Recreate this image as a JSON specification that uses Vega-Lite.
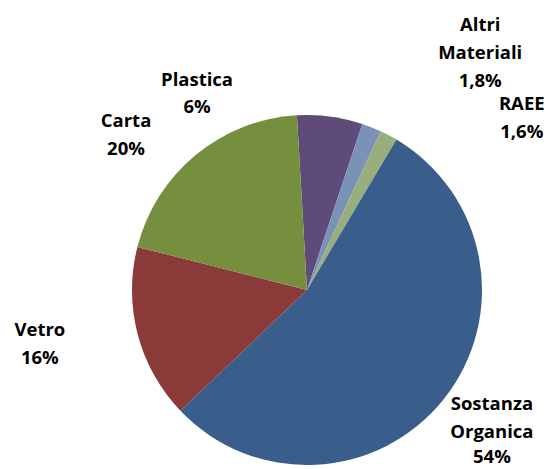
{
  "$schema": "https://vega.github.io/schema/vega-lite/v6.json",
  "autosize": {"type": "none"},
  "width": 350,
  "height": 350,
  "padding": {"left": 132, "top": 115, "right": 65, "bottom": 4},
  "background": "white",
  "config": {
    "view": {"stroke": null},
    "locale": {"number": {"decimal": ",", "thousands": ".", "grouping": [3], "currency": ["€", ""]}},
    "text": {"font": "Open Sans", "fontWeight": "bold", "fontSize": 18.5, "color": "black", "align": "center", "baseline": "alphabetic", "lineHeight": 28}
  },
  "data": {"values": [
    {"categoria": "Plastica", "quota": 0.06},
    {"categoria": "Altri Materiali", "quota": 0.018},
    {"categoria": "RAEE", "quota": 0.016},
    {"categoria": "Sostanza Organica", "quota": 0.54},
    {"categoria": "Vetro", "quota": 0.16},
    {"categoria": "Carta", "quota": 0.20}
  ]},
  "transform": [{"window": [{"op": "row_number", "as": "ordine"}]}],
  "encoding": {
    "theta": {"field": "quota", "type": "quantitative", "stack": true, "scale": {"range": [-0.0576, 6.2256]}},
    "order": {"field": "ordine", "type": "quantitative"},
    "detail": {"field": "categoria", "type": "nominal"}
  },
  "layer": [
    {"mark": {"type": "arc", "stroke": null},
     "encoding": {"color": {"field": "categoria", "type": "nominal", "legend": null,
       "scale": {"domain": ["Plastica", "Altri Materiali", "RAEE", "Sostanza Organica", "Vetro", "Carta"],
                 "range": ["#5F4B7A", "#7B92B8", "#98AF7D", "#3A5E8B", "#8A3A39", "#768F3F"]}}}},
    {"mark": {"type": "text", "radius": 190, "dx": -135, "dy": -16, "lineBreak": " "},
     "encoding": {"text": {"condition": {"test": "datum.categoria === 'Plastica'", "field": "categoria"}, "value": ""}}},
    {"mark": {"type": "text", "radius": 190, "dx": -135, "dy": 11},
     "encoding": {"text": {"condition": {"test": "datum.categoria === 'Plastica'", "field": "quota", "type": "quantitative", "format": ".1~%"}, "value": ""}}},
    {"mark": {"type": "text", "radius": 190, "dx": 103, "dy": -82, "lineBreak": " "},
     "encoding": {"text": {"condition": {"test": "datum.categoria === 'Altri Materiali'", "field": "categoria"}, "value": ""}}},
    {"mark": {"type": "text", "radius": 190, "dx": 103, "dy": -26},
     "encoding": {"text": {"condition": {"test": "datum.categoria === 'Altri Materiali'", "field": "quota", "type": "quantitative", "format": ".1~%"}, "value": ""}}},
    {"mark": {"type": "text", "radius": 190, "dx": 126, "dy": -12, "lineBreak": " "},
     "encoding": {"text": {"condition": {"test": "datum.categoria === 'RAEE'", "field": "categoria"}, "value": ""}}},
    {"mark": {"type": "text", "radius": 190, "dx": 126, "dy": 16},
     "encoding": {"text": {"condition": {"test": "datum.categoria === 'RAEE'", "field": "quota", "type": "quantitative", "format": ".1~%"}, "value": ""}}},
    {"mark": {"type": "text", "radius": 230, "dx": 5, "dy": -23, "lineBreak": " "},
     "encoding": {"text": {"condition": {"test": "datum.categoria === 'Sostanza Organica'", "field": "categoria"}, "value": ""}}},
    {"mark": {"type": "text", "radius": 230, "dx": 5, "dy": 30},
     "encoding": {"text": {"condition": {"test": "datum.categoria === 'Sostanza Organica'", "field": "quota", "type": "quantitative", "format": ".1~%"}, "value": ""}}},
    {"mark": {"type": "text", "radius": 270, "dx": -6, "dy": -23, "lineBreak": " "},
     "encoding": {"text": {"condition": {"test": "datum.categoria === 'Vetro'", "field": "categoria"}, "value": ""}}},
    {"mark": {"type": "text", "radius": 270, "dx": -6, "dy": 5},
     "encoding": {"text": {"condition": {"test": "datum.categoria === 'Vetro'", "field": "quota", "type": "quantitative", "format": ".1~%"}, "value": ""}}},
    {"mark": {"type": "text", "radius": 220, "dx": -41, "dy": 7, "lineBreak": " "},
     "encoding": {"text": {"condition": {"test": "datum.categoria === 'Carta'", "field": "categoria"}, "value": ""}}},
    {"mark": {"type": "text", "radius": 220, "dx": -41, "dy": 35},
     "encoding": {"text": {"condition": {"test": "datum.categoria === 'Carta'", "field": "quota", "type": "quantitative", "format": ".1~%"}, "value": ""}}}
  ]
}
